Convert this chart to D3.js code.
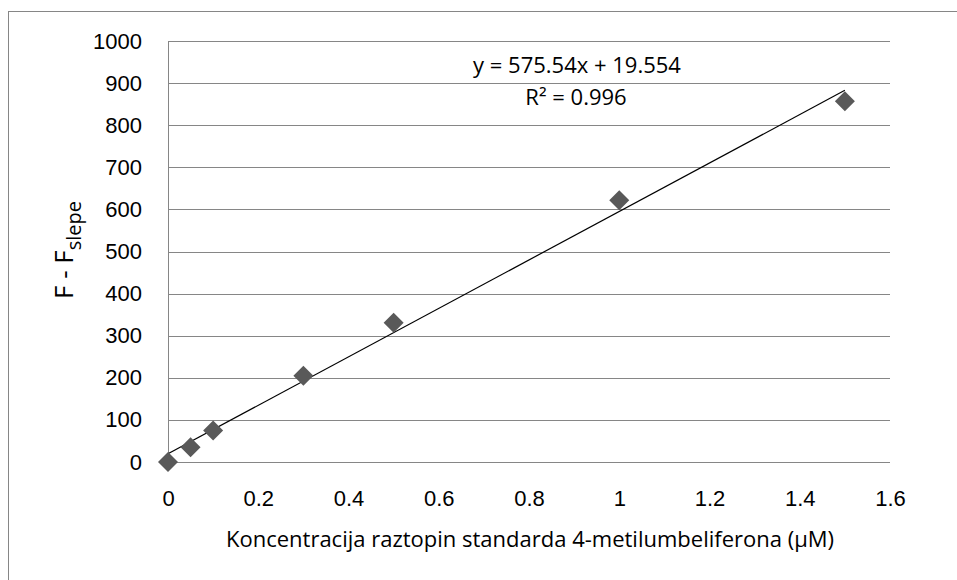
<!DOCTYPE html>
<html>
<head>
<meta charset="utf-8">
<script src="https://cdn.jsdelivr.net/npm/d3@7"></script>
<style>
  body { margin: 0; background: #fff; }
  svg { display: block; font-family: "Open Sans", "Noto Sans", sans-serif; }
</style>
</head>
<body>
<svg id="chart" width="957" height="580"></svg>
<script>
// standard curve data (4-MU)
const conc = [0, 0.05, 0.1, 0.3, 0.5, 1, 1.5]
const signal = [0, 35, 75, 205, 331, 622, 857]
const xTicks = [0, 0.2, 0.4, 0.6, 0.8, 1, 1.2, 1.4, 1.6]
const yTicks = [0, 100, 200, 300, 400, 500, 600, 700, 800, 900, 1000]
const slope = 575.54
const intercept = 19.554
const r2Label = '0.996'

const svg = d3.select('#chart')
const margin = { top: 41, right: 67, bottom: 118, left: 168 }
const width = 957 - margin.left - margin.right
const height = 580 - margin.top - margin.bottom

// outer chart border (runs off the bottom/right of the picture)
svg.append('rect')
  .attr('x', 8.5).attr('y', 11.5)
  .attr('width', 1000).attr('height', 600)
  .attr('fill', 'none')
  .attr('stroke', '#868686')
  .attr('stroke-width', 1)

const g = svg.append('g').attr('transform', 'translate(' + margin.left + ',' + margin.top + ')')

const x = d3.scaleLinear().domain([0, 1.6]).range([0, width])
const y = d3.scaleLinear().domain([0, 1000]).range([height, 0])

// gridlines
g.append('g')
  .selectAll('line')
  .data(yTicks)
  .join('line')
  .attr('x1', 0).attr('x2', width)
  .attr('y1', d => Math.round(y(d)) + 0.5)
  .attr('y2', d => Math.round(y(d)) + 0.5)
  .attr('stroke', '#868686')
  .attr('stroke-width', 1)

// vertical axis line
g.append('line')
  .attr('x1', 0.5).attr('x2', 0.5)
  .attr('y1', Math.round(y(1000)) + 0.5).attr('y2', Math.round(y(0)) + 0.5)
  .attr('stroke', '#868686')

// y tick labels
const yAxis = g.append('g')
  .call(d3.axisLeft(y).tickValues(yTicks).tickSize(0).tickPadding(26).tickFormat(d3.format('d')))
yAxis.select('.domain').remove()
yAxis.selectAll('text').attr('font-size', 22).attr('fill', '#000').attr('font-family', null)

// x tick labels
const xAxis = g.append('g')
  .attr('transform', 'translate(0,' + height + ')')
  .call(d3.axisBottom(x).tickValues(xTicks).tickSize(0).tickPadding(28).tickFormat(d => d3.format('')(d)))
xAxis.select('.domain').remove()
xAxis.selectAll('text').attr('font-size', 22).attr('fill', '#000').attr('font-family', null)

// trendline
g.append('line')
  .attr('x1', x(0)).attr('y1', y(intercept))
  .attr('x2', x(1.5)).attr('y2', y(slope * 1.5 + intercept))
  .attr('stroke', '#000')
  .attr('stroke-width', 1.2)

// diamond markers
const diamond = d3.symbol().type(d3.symbolSquare).size(200)
g.append('g')
  .selectAll('path')
  .data(conc.map((c, i) => [c, signal[i]]))
  .join('path')
  .attr('d', diamond)
  .attr('transform', d => 'translate(' + x(d[0]) + ',' + y(d[1]) + ') rotate(45)')
  .attr('fill', '#595959')

// equation label
svg.append('text')
  .attr('x', 577).attr('y', 73)
  .attr('text-anchor', 'middle')
  .attr('font-size', 22)
  .text('y = ' + slope + 'x + ' + intercept)
svg.append('text')
  .attr('x', 576).attr('y', 105)
  .attr('text-anchor', 'middle')
  .attr('font-size', 22)
  .text('R² = ' + r2Label)

// axis titles
svg.append('text')
  .attr('x', 530).attr('y', 547)
  .attr('text-anchor', 'middle')
  .attr('font-size', 22)
  .text('Koncentracija raztopin standarda 4-metilumbeliferona (μM)')

const yTitle = svg.append('text')
  .attr('transform', 'translate(73,250) rotate(-90)')
  .attr('text-anchor', 'middle')
  .attr('font-size', 26)
yTitle.append('tspan').text('F - F')
yTitle.append('tspan').attr('dy', 8).attr('font-size', 20).text('slepe')
</script>
</body>
</html>
